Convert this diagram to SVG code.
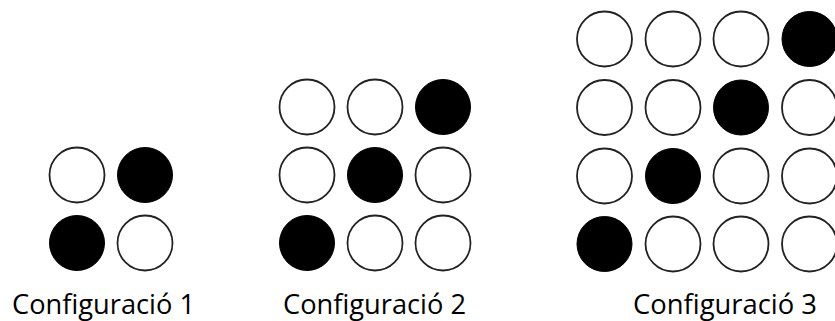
<svg xmlns="http://www.w3.org/2000/svg" width="835" height="321" viewBox="0 0 835 321">
<style>
.w{fill:#fff;stroke:#222;stroke-width:1.8}
.b{fill:#000;stroke:#000;stroke-width:1}
.t{font-family:"Open Sans","Liberation Sans",sans-serif;font-size:27px;fill:#000}
</style>
<rect width="835" height="321" fill="#fff"/>
<g id="config1">
<circle class="w" cx="77" cy="175" r="27.5"/>
<circle class="b" cx="145" cy="175" r="27.5"/>
<circle class="b" cx="77" cy="243" r="27.5"/>
<circle class="w" cx="145" cy="243" r="27.5"/>
<text class="t" x="12" y="314" textLength="183" lengthAdjust="spacingAndGlyphs">Configuració 1</text>
</g>
<g id="config2">
<circle class="w" cx="307" cy="107" r="27.5"/>
<circle class="w" cx="375" cy="107" r="27.5"/>
<circle class="b" cx="443" cy="107" r="27.5"/>
<circle class="w" cx="307" cy="175" r="27.5"/>
<circle class="b" cx="375" cy="175" r="27.5"/>
<circle class="w" cx="443" cy="175" r="27.5"/>
<circle class="b" cx="307" cy="243" r="27.5"/>
<circle class="w" cx="375" cy="243" r="27.5"/>
<circle class="w" cx="443" cy="243" r="27.5"/>
<text class="t" x="283" y="314" textLength="183" lengthAdjust="spacingAndGlyphs">Configuració 2</text>
</g>
<g id="config3">
<circle class="w" cx="604.5" cy="39" r="27.5"/>
<circle class="w" cx="673" cy="39" r="27.5"/>
<circle class="w" cx="741" cy="39" r="27.5"/>
<circle class="b" cx="809.5" cy="39" r="27.5"/>
<circle class="w" cx="604.5" cy="107.5" r="27.5"/>
<circle class="w" cx="673" cy="107.5" r="27.5"/>
<circle class="b" cx="741" cy="107.5" r="27.5"/>
<circle class="w" cx="809.5" cy="107.5" r="27.5"/>
<circle class="w" cx="604.5" cy="176" r="27.5"/>
<circle class="b" cx="673" cy="176" r="27.5"/>
<circle class="w" cx="741" cy="176" r="27.5"/>
<circle class="w" cx="809.5" cy="176" r="27.5"/>
<circle class="b" cx="604.5" cy="244" r="27.5"/>
<circle class="w" cx="673" cy="244" r="27.5"/>
<circle class="w" cx="741" cy="244" r="27.5"/>
<circle class="w" cx="809.5" cy="244" r="27.5"/>
<text class="t" x="633" y="314" textLength="184" lengthAdjust="spacingAndGlyphs">Configuració 3</text>
</g>
</svg>
